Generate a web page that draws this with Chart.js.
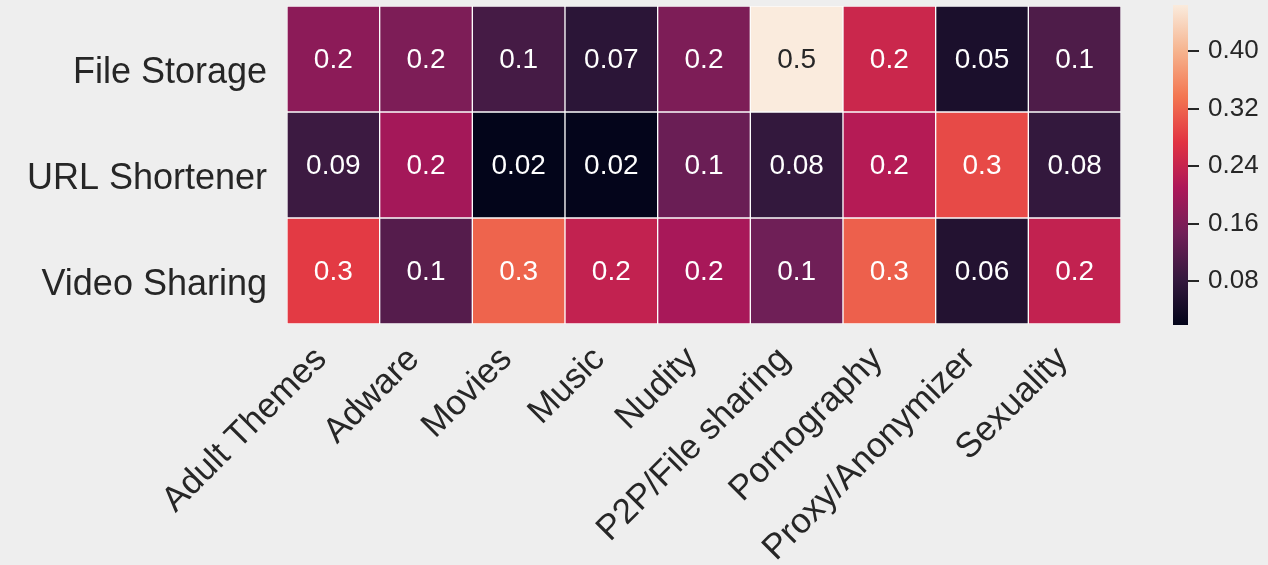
<!DOCTYPE html>
<html>
<head>
<meta charset="utf-8">
<script src="https://cdn.jsdelivr.net/npm/chart.js@4.4.0/dist/chart.umd.min.js"></script>
<style>
  html, body { margin: 0; padding: 0; background: #eeeeee; }
  #wrap { position: relative; width: 1268px; height: 565px; }
  #heat { position: absolute; left: 0; top: 0; }
  #cbar { position: absolute; left: 1160px; top: 0; }
</style>
</head>
<body>
<div id="wrap">
  <canvas id="heat" width="1268" height="565"></canvas>
  <canvas id="cbar" width="108" height="565"></canvas>
</div>
<script>
// categories
const columns = ['Adult Themes', 'Adware', 'Movies', 'Music', 'Nudity',
  'P2P/File sharing', 'Pornography', 'Proxy/Anonymizer', 'Sexuality'];
const rowNames = ['File Storage', 'URL Shortener', 'Video Sharing'];

// values (colour gives the value, label gives the rounding)
const fileStorage  = [0.175, 0.16, 0.10, 0.07, 0.16, 0.464, 0.245, 0.05, 0.11];
const urlShortener = [0.09, 0.20, 0.019, 0.02, 0.14, 0.08, 0.22, 0.295, 0.08];
const videoSharing = [0.28, 0.117, 0.32, 0.235, 0.205, 0.145, 0.316, 0.06, 0.235];
const rows = [fileStorage, urlShortener, videoSharing];

const colorbarTicks = [0.08, 0.16, 0.24, 0.32, 0.40];
const vmin = 0.019;
const vmax = 0.464;

// rocket colormap, rough stops
const rocket = [
  [0.000, [3, 5, 26]],
  [0.143, [53, 25, 62]],
  [0.286, [112, 31, 87]],
  [0.429, [173, 23, 89]],
  [0.571, [225, 51, 66]],
  [0.714, [243, 118, 81]],
  [0.857, [246, 180, 143]],
  [1.000, [250, 235, 221]]
];

function rocketRGB(t) {
  t = Math.max(0, Math.min(1, t));
  for (let i = 1; i < rocket.length; i++) {
    if (t <= rocket[i][0]) {
      const a = rocket[i - 1], b = rocket[i];
      const f = (t - a[0]) / (b[0] - a[0]);
      return a[1].map((c, k) => Math.round(c + (b[1][k] - c) * f));
    }
  }
  return rocket[rocket.length - 1][1];
}
function colorFor(v) {
  const c = rocketRGB((v - vmin) / (vmax - vmin));
  return 'rgb(' + c.join(',') + ')';
}
function textColorFor(v) {
  const c = rocketRGB((v - vmin) / (vmax - vmin)).map(x => {
    x = x / 255;
    return x <= 0.03928 ? x / 12.92 : Math.pow((x + 0.055) / 1.055, 2.4);
  });
  const lum = 0.2126 * c[0] + 0.7152 * c[1] + 0.0722 * c[2];
  return lum > 0.408 ? '#262626' : '#ffffff';
}
// matplotlib ".1g"
function fmt(v) {
  return String(Number(v.toPrecision(1)));
}

const FONT = "'Liberation Sans', Arial, sans-serif";

const annotate = {
  id: 'annotate',
  afterDatasetsDraw(chart) {
    const ctx = chart.ctx;
    ctx.save();
    ctx.font = '28px ' + FONT;
    ctx.textAlign = 'center';
    ctx.textBaseline = 'middle';
    chart.data.datasets.forEach((ds, i) => {
      chart.getDatasetMeta(i).data.forEach((bar, j) => {
        const v = ds.values[j];
        const p = bar.getProps(['x', 'y', 'base'], true);
        ctx.fillStyle = textColorFor(v);
        ctx.fillText(fmt(v), p.x, (p.y + p.base) / 2 + 1);
      });
    });
    ctx.restore();
  }
};

new Chart(document.getElementById('heat'), {
  type: 'bar',
  data: {
    labels: columns,
    datasets: rows.map((vals, i) => ({
      label: rowNames[i],
      values: vals,
      data: vals.map(() => [i, i + 1]),
      backgroundColor: vals.map(colorFor),
      borderColor: 'rgba(255,255,255,0.75)',
      borderWidth: 1,
      borderSkipped: false,
      grouped: false,
      barPercentage: 1,
      categoryPercentage: 1
    }))
  },
  options: {
    responsive: false,
    animation: false,
    layout: { padding: { top: 6, right: 147, left: 0, bottom: 0 } },
    plugins: { legend: { display: false }, tooltip: { enabled: false } },
    scales: {
      x: {
        grid: { display: false, drawTicks: false },
        border: { display: false },
        ticks: {
          autoSkip: false, minRotation: 45, maxRotation: 45, padding: 15,
          labelOffset: -12,
          color: '#262626', font: { family: FONT, size: 35 }
        },
        afterFit(scale) {
          scale.height = 241;
          scale.paddingLeft = 0;
          scale.paddingRight = 0;
        }
      },
      y: {
        min: 0, max: 3, reverse: true,
        grid: { display: false, drawTicks: false },
        border: { display: false },
        afterBuildTicks(scale) {
          scale.ticks = rowNames.map((n, i) => ({ value: i + 0.5 }));
        },
        ticks: {
          padding: 20, labelOffset: 14,
          color: '#262626', font: { family: FONT, size: 36 },
          callback: (value) => rowNames[Math.floor(value)]
        },
        afterFit(scale) {
          scale.width = 287;
          scale.paddingTop = 0;
          scale.paddingBottom = 0;
        }
      }
    }
  },
  plugins: [annotate]
});

// colour bar
new Chart(document.getElementById('cbar'), {
  type: 'bar',
  data: {
    labels: [''],
    datasets: [{
      data: [[vmin, vmax]],
      backgroundColor(context) {
        const area = context.chart.chartArea;
        if (!area) return '#000';
        const g = context.chart.ctx.createLinearGradient(0, area.bottom, 0, area.top);
        rocket.forEach(s => g.addColorStop(s[0], 'rgb(' + s[1].join(',') + ')'));
        return g;
      },
      borderWidth: 0,
      barPercentage: 1,
      categoryPercentage: 1
    }]
  },
  options: {
    responsive: false,
    animation: false,
    layout: { padding: { top: 5, left: 13, right: 0, bottom: 0 } },
    plugins: { legend: { display: false }, tooltip: { enabled: false } },
    scales: {
      x: {
        display: true,
        grid: { display: false, drawTicks: false },
        border: { display: false },
        ticks: { display: false },
        afterFit(scale) {
          scale.height = 240;
          scale.paddingLeft = 0;
          scale.paddingRight = 0;
        }
      },
      y: {
        position: 'right',
        min: vmin, max: vmax,
        afterBuildTicks(scale) {
          scale.ticks = colorbarTicks.map(v => ({ value: v }));
        },
        grid: { drawOnChartArea: false, drawTicks: true, tickLength: 11, color: '#262626', lineWidth: 2 },
        border: { display: false },
        ticks: {
          padding: 9, color: '#262626', font: { family: FONT, size: 26 },
          callback: (v) => v.toFixed(2)
        },
        afterFit(scale) {
          scale.width = 80;
          scale.paddingTop = 0;
          scale.paddingBottom = 0;
        }
      }
    }
  }
});
</script>
</body>
</html>
